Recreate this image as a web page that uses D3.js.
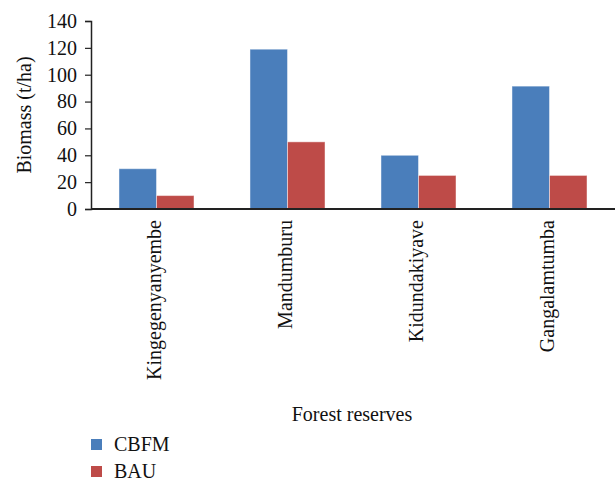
<!DOCTYPE html>
<html>
<head>
<meta charset="utf-8">
<script src="https://cdn.jsdelivr.net/npm/d3@7"></script>
<style>
  body { margin: 0; background: #fff; }
</style>
</head>
<body>
<div id="chart"></div>
<script>
// data
const reserves = ["Kingegenyanyembe", "Mandumburu", "Kidundakiyave", "Gangalamtumba"];
const seriesNames = ["CBFM", "BAU"];
const cbfm = [30, 119, 40, 91.5];
const bau = [10, 50, 25, 25];
const yTicks = [0, 20, 40, 60, 80, 100, 120, 140];
const colors = ["#4a7ebb", "#be4b48"];

const FONT = "'Liberation Serif', 'DejaVu Serif', serif";

const W = 616, H = 481;
const margin = {left: 91, top: 21, right: 1};
const width = W - margin.left - margin.right;
const height = 188;

const svg = d3.select("#chart")
    .append("svg")
    .attr("width", W)
    .attr("height", H)
    .style("font-family", FONT);

const g = svg.append("g")
    .attr("transform", "translate(" + margin.left + "," + margin.top + ")");

var x = d3.scaleBand()
    .domain(reserves)
    .range([0, width])
    .paddingInner(0)
    .paddingOuter(0);

var x1 = d3.scaleBand()
    .domain(seriesNames)
    .range([x.bandwidth() * 0.2137, x.bandwidth() * 0.7863])
    .padding(0);

var y = d3.scaleLinear()
    .domain([0, 140])
    .range([height, 0]);

// bars
const rows = reserves.map((r, i) => ({reserve: r, vals: [cbfm[i], bau[i]]}));

const groups = g.selectAll(".grp")
    .data(rows)
    .enter().append("g")
    .attr("class", "grp")
    .attr("transform", d => "translate(" + x(d.reserve) + ",0)");

groups.selectAll("rect")
    .data(d => d.vals.map((v, k) => ({name: seriesNames[k], v: v, k: k})))
    .enter().append("rect")
    .attr("x", d => x1(d.name))
    .attr("y", d => y(d.v))
    .attr("width", x1.bandwidth())
    .attr("height", d => height - y(d.v))
    .attr("fill", d => colors[d.k])
    .attr("stroke", "rgba(255,255,255,0.45)")
    .attr("stroke-width", 1);

// y axis
const yAxis = g.append("g")
    .call(d3.axisLeft(y).tickValues(yTicks).tickSize(6).tickPadding(8));
yAxis.attr("font-family", FONT).attr("font-size", 20);
yAxis.select(".domain").attr("stroke", "#222").attr("stroke-width", 1.5);
yAxis.selectAll(".tick line").attr("stroke", "#222").attr("stroke-width", 1.2);
yAxis.selectAll("text")
    .attr("fill", "#111");

// x axis line
g.append("line")
    .attr("x1", 0)
    .attr("x2", width)
    .attr("y1", height)
    .attr("y2", height)
    .attr("stroke", "#222")
    .attr("stroke-width", 2);

// category labels, rotated
g.selectAll(".cat")
    .data(reserves)
    .enter().append("text")
    .attr("class", "cat")
    .attr("transform", d => "translate(" + (x(d) + x.bandwidth() / 2 + 4) + "," + (height + 11) + ")rotate(-90)")
    .attr("text-anchor", "end")
    .attr("font-family", FONT)
    .attr("font-size", 20)
    .attr("fill", "#111")
    .text(d => d);

// axis titles
svg.append("text")
    .attr("transform", "translate(31," + (margin.top + height / 2) + ")rotate(-90)")
    .attr("text-anchor", "middle")
    .attr("font-family", FONT)
    .attr("font-size", 20)
    .attr("fill", "#111")
    .text("Biomass (t/ha)");

svg.append("text")
    .attr("x", 352)
    .attr("y", 421)
    .attr("text-anchor", "middle")
    .attr("font-family", FONT)
    .attr("font-size", 20)
    .attr("fill", "#111")
    .text("Forest reserves");

// legend
const legend = svg.selectAll(".leg")
    .data(seriesNames)
    .enter().append("g")
    .attr("class", "leg")
    .attr("transform", (d, i) => "translate(91," + (439 + i * 27) + ")");

legend.append("rect")
    .attr("width", 11)
    .attr("height", 11)
    .attr("fill", (d, i) => colors[i]);

legend.append("text")
    .attr("x", 23)
    .attr("y", 12)
    .attr("font-family", FONT)
    .attr("font-size", 20)
    .attr("fill", "#111")
    .text(d => d);
</script>
</body>
</html>
